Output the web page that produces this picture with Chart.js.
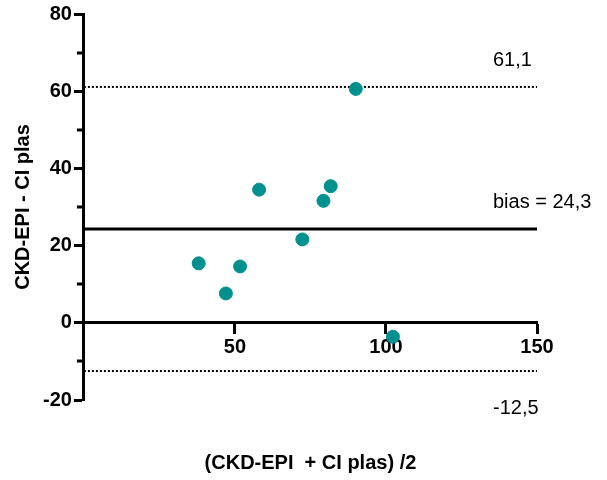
<!DOCTYPE html>
<html>
<head>
<meta charset="utf-8">
<script src="https://cdn.jsdelivr.net/npm/chart.js@4/dist/chart.umd.min.js"></script>
<style>
  html, body { margin: 0; padding: 0; background: #fff; }
  #wrap { width: 607px; height: 480px; }
</style>
</head>
<body>
<div id="wrap"><canvas id="chart"></canvas></div>
<script>
const meanValues = [38, 47, 51.7, 58, 72.3, 79.3, 81.7, 90, 102.3];
const diffValues = [15.4, 7.6, 14.6, 34.5, 21.6, 31.6, 35.4, 60.6, -3.6];
const bias = 24.3;
const upperLimit = 61.1;
const lowerLimit = -12.5;
const xTicks = [0, 50, 100, 150];
const yTicks = [-20, 0, 20, 40, 60, 80];
const yMinorTicks = [-10, 10, 30, 50, 70];

const FONT = "'Liberation Sans', Arial, Helvetica, sans-serif";
const fmt = v => v.toFixed(1).replace(".", ",");

const xMin = xTicks[0];
const xMax = xTicks[xTicks.length - 1];
const hLine = y => [{ x: xMin, y }, { x: xMax, y }];

// labels for bias / limits, drawn at the right end of the lines
const sideLabels = {
  id: "sideLabels",
  afterDraw(chart) {
    const { ctx, chartArea, scales } = chart;
    const x = chartArea.right - 44;
    ctx.save();
    ctx.font = "20px " + FONT;
    ctx.fillStyle = "#000";
    ctx.textBaseline = "middle";
    ctx.textAlign = "left";
    ctx.fillText(fmt(upperLimit), x, scales.y.getPixelForValue(upperLimit) - 26);
    ctx.fillText("bias = " + fmt(bias), x, scales.y.getPixelForValue(bias) - 27);
    ctx.fillText(fmt(lowerLimit), x, scales.y.getPixelForValue(lowerLimit) + 37);
    ctx.restore();
  },
};

// short minor ticks on the y axis
const minorTicks = {
  id: "minorTicks",
  afterDraw(chart) {
    const { ctx, chartArea, scales } = chart;
    ctx.save();
    ctx.strokeStyle = "#000";
    ctx.lineWidth = 3;
    yMinorTicks.forEach(v => {
      const y = Math.round(scales.y.getPixelForValue(v));
      ctx.beginPath();
      ctx.moveTo(chartArea.left - 7, y);
      ctx.lineTo(chartArea.left, y);
      ctx.stroke();
    });
    ctx.restore();
  },
};

const tickFont = { family: FONT, size: 20, weight: "bold" };
const axisGrid = {
  drawOnChartArea: false,
  drawTicks: true,
  tickLength: 10,
  color: "#000",
  tickWidth: 3,
};

new Chart(document.getElementById("chart"), {
  type: "scatter",
  plugins: [sideLabels, minorTicks],
  data: {
    datasets: [
      {
        data: meanValues.map((m, i) => ({ x: m, y: diffValues[i] })),
        backgroundColor: "#00918e",
        borderColor: "#00918e",
        pointRadius: 6.5,
        pointHoverRadius: 6.5,
      },
      {
        type: "line",
        data: hLine(bias),
        borderColor: "#000",
        borderWidth: 3,
        pointRadius: 0,
      },
      {
        type: "line",
        data: hLine(upperLimit),
        borderColor: "#000",
        borderWidth: 2,
        borderDash: [2, 2],
        pointRadius: 0,
      },
      {
        type: "line",
        data: hLine(lowerLimit),
        borderColor: "#000",
        borderWidth: 2,
        borderDash: [2, 2],
        pointRadius: 0,
      },
    ],
  },
  options: {
    responsive: true,
    maintainAspectRatio: false,
    animation: false,
    layout: { padding: { left: 7, right: 70, top: 14, bottom: 0 } },
    plugins: {
      legend: { display: false },
      tooltip: { enabled: false },
    },
    scales: {
      x: {
        type: "linear",
        position: { y: 0 },
        min: xMin,
        max: xMax,
        afterBuildTicks: s => { s.ticks = xTicks.map(v => ({ value: v })); },
        ticks: {
          color: "#000",
          font: tickFont,
          padding: 3,
          callback: v => (v === 0 ? "" : v),
        },
        grid: axisGrid,
        border: { display: true, color: "#000", width: 3 },
      },
      // bottom axis only carries the x title
      xTitle: {
        type: "linear",
        axis: "x",
        position: "bottom",
        min: xMin,
        max: xMax,
        ticks: { display: false },
        grid: { display: false },
        border: { display: false },
        title: {
          display: true,
          text: "(CKD-EPI  + CI plas) /2",
          color: "#000",
          font: { family: FONT, size: 20, weight: "bold" },
          padding: { top: 43, bottom: 5 },
        },
      },
      y: {
        type: "linear",
        position: "left",
        min: yTicks[0],
        max: yTicks[yTicks.length - 1],
        afterBuildTicks: s => { s.ticks = yTicks.map(v => ({ value: v })); },
        ticks: {
          color: "#000",
          font: tickFont,
          padding: 2,
        },
        grid: axisGrid,
        border: { display: true, color: "#000", width: 3 },
        title: {
          display: true,
          text: "CKD-EPI - CI plas",
          color: "#000",
          font: { family: FONT, size: 20, weight: "bold" },
          padding: { top: 4, bottom: 6 },
        },
      },
    },
  },
});
</script>
</body>
</html>
